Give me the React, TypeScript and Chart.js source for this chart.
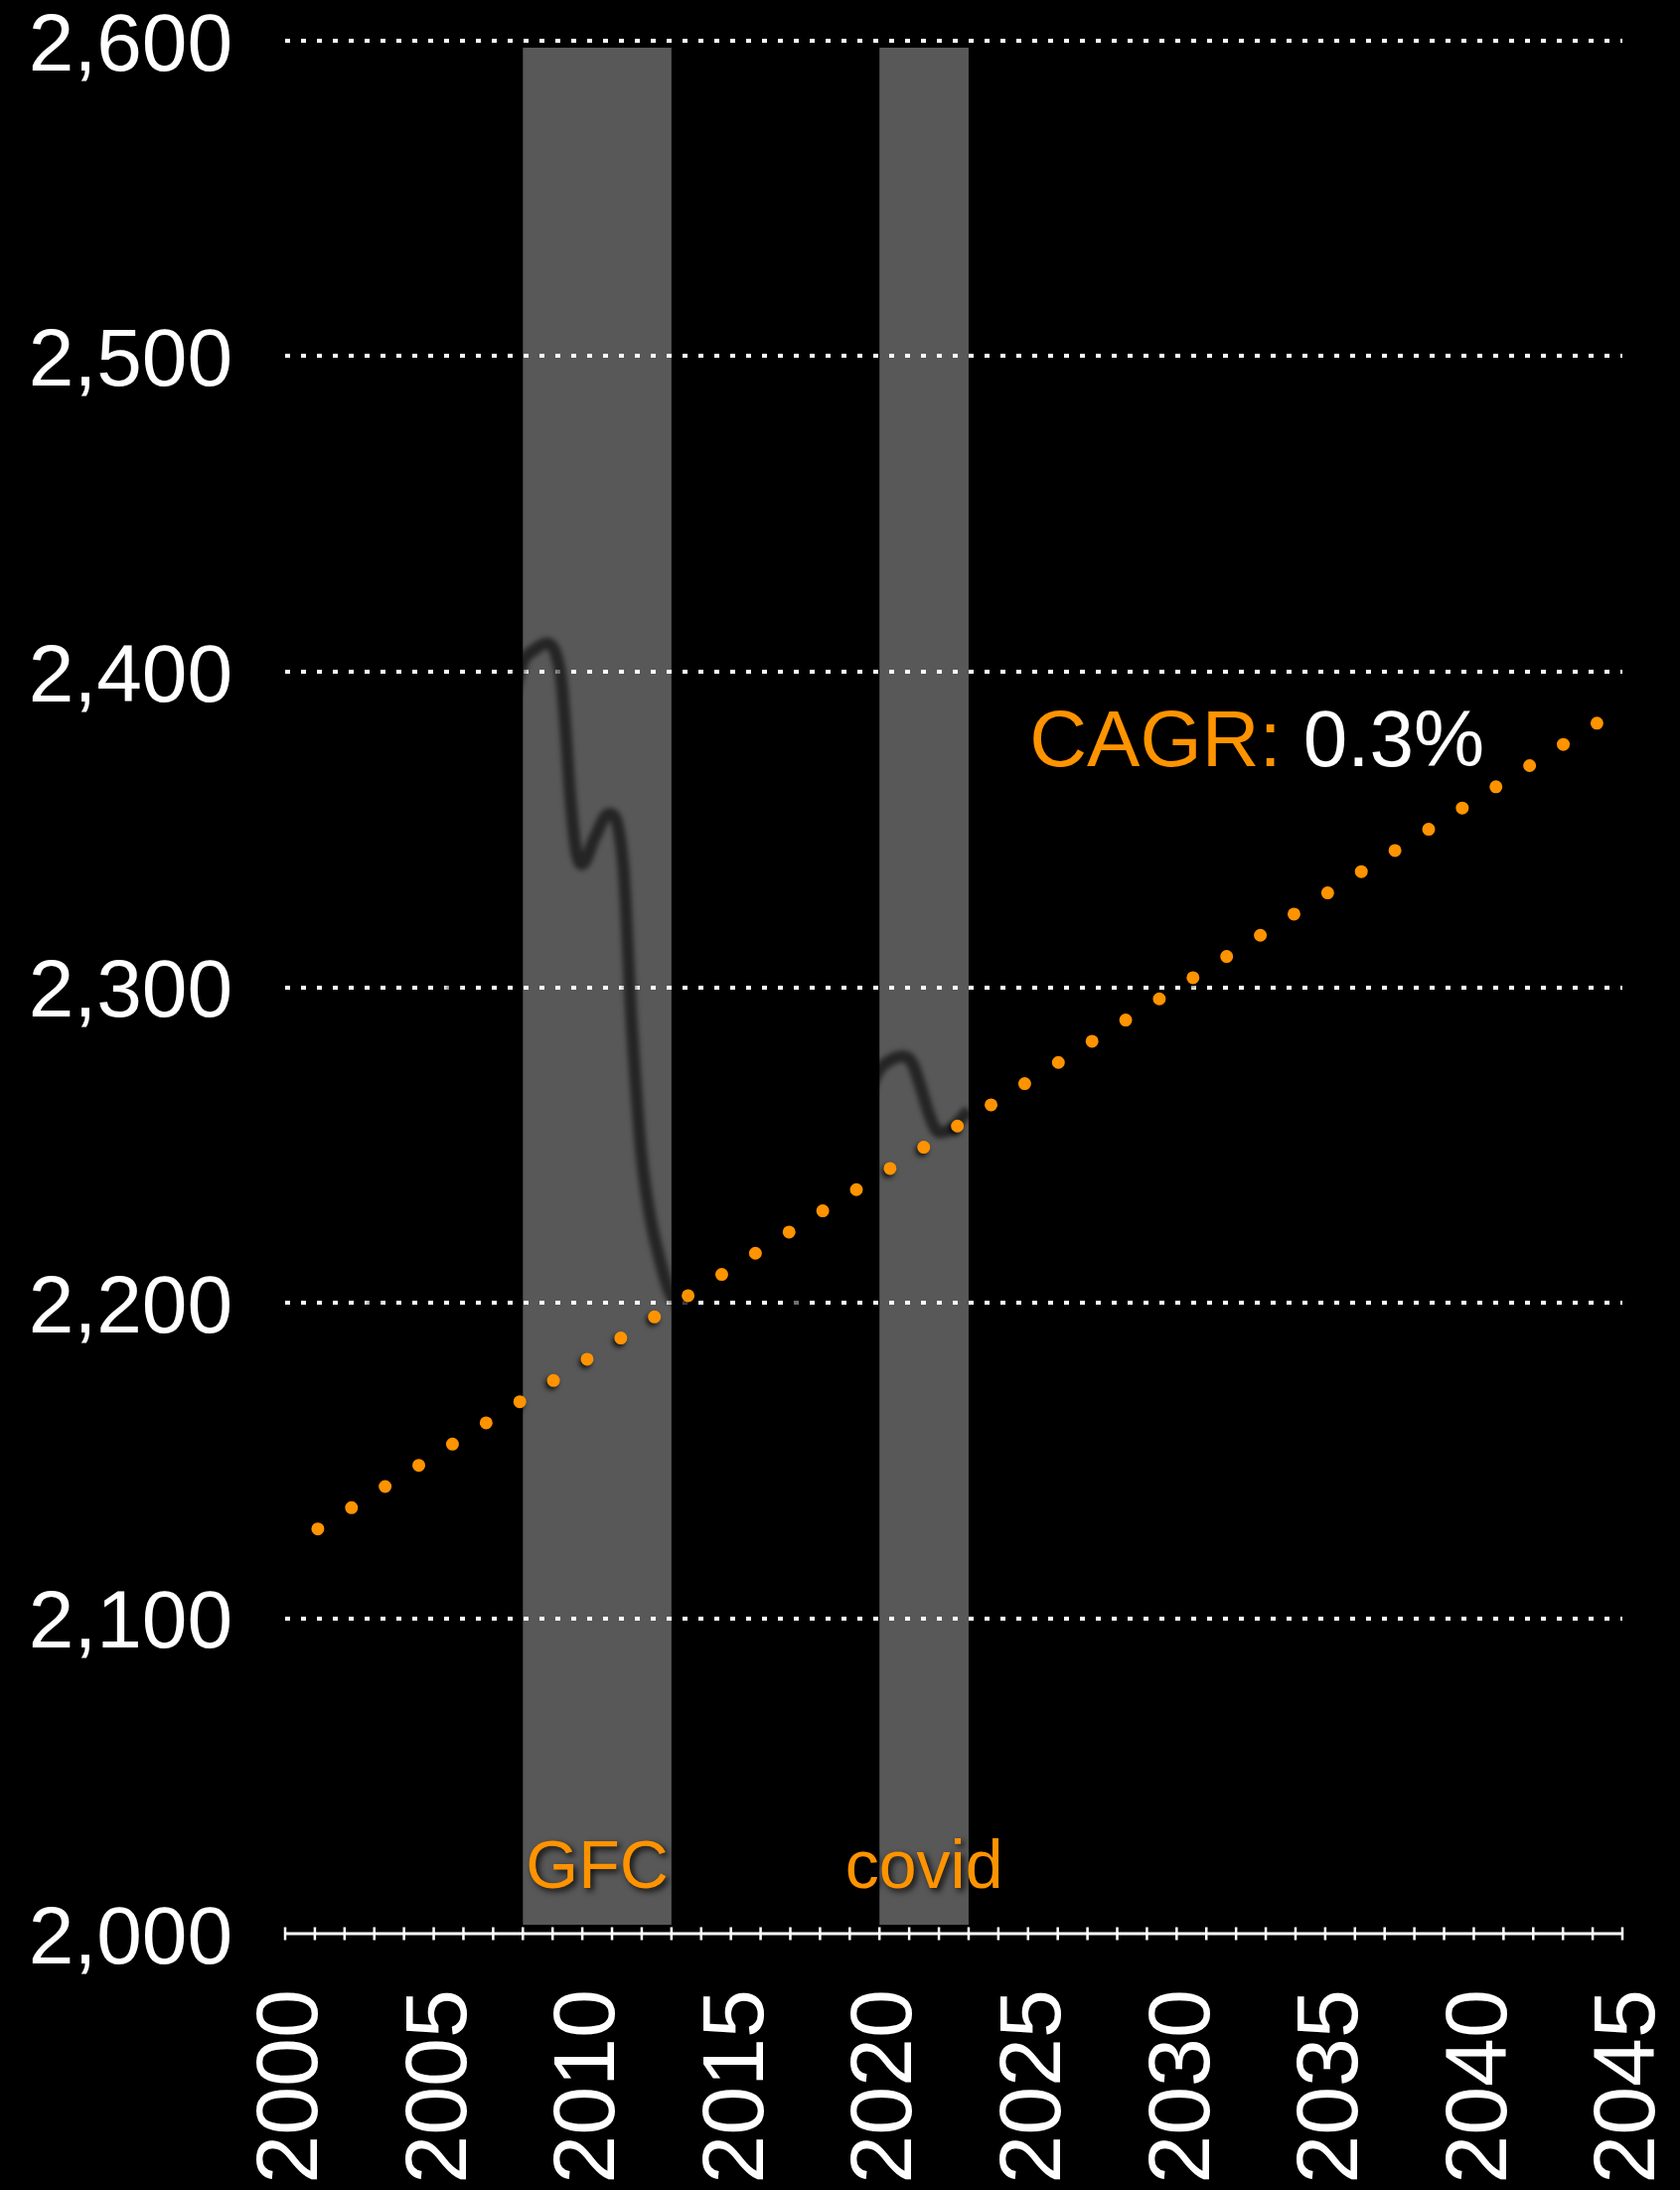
import React, { useEffect, useRef } from 'react';
import { Chart, registerables } from 'chart.js';

Chart.register(...registerables);

// ---- data ----
const dataYears = [
  2001.0, 2002.0, 2003.0, 2004.0, 2005.0, 2006.0, 2007.0, 2007.5, 2008.0, 2008.4,
  2008.8, 2009.1, 2009.3, 2009.45, 2009.6, 2009.8, 2010.0, 2010.4, 2010.9, 2011.2,
  2011.4, 2011.52, 2011.64, 2011.8, 2012.0, 2012.25, 2012.6, 2013.0, 2013.5, 2014.0,
  2014.8, 2015.5, 2016.3, 2017.2, 2018.0, 2019.0, 2019.6, 2020.0, 2020.4, 2020.8,
  2021.1, 2021.4, 2021.7, 2022.0, 2022.4, 2023.0,
];
const dataValues = [
  2130, 2164, 2200, 2237, 2274, 2314, 2357, 2385, 2403, 2407,
  2409, 2406, 2397, 2380, 2360, 2343, 2339, 2347, 2355, 2351,
  2336, 2315, 2292, 2269, 2246, 2229, 2214, 2202, 2199, 2192,
  2197, 2194, 2190, 2200, 2222, 2250, 2266, 2274, 2277, 2278,
  2276, 2268, 2259, 2254, 2255, 2261,
];
const trendYears = [2001.1, 2044.2];
const trendValues = [2128.3, 2384.0];

const bandLabels = ['GFC', 'covid'];
const bandStarts = [2008, 2020];
const bandEnds = [2013, 2023];
const bandLow = 2002.8;
const bandHigh = 2597.8;

const cagrPrefix = 'CAGR:';
const cagrValue = '0.3%';

const yMin = 2000;
const yMax = 2600;
const yStep = 100;
const xMin = 2000;
const xMax = 2045;
const xLabelStep = 5;

// ---- styling ----
const W = 1691;
const H = 2204;
const ORANGE = '#ff9300';
const FONT = '"Liberation Sans", Arial, Helvetica, sans-serif';

const decorPlugin = {
  id: 'decor',
  beforeDraw(chart: any) {
    const { ctx } = chart;
    const x = chart.scales.x;
    const y = chart.scales.y;
    ctx.save();
    ctx.fillStyle = '#000';
    ctx.fillRect(0, 0, chart.width, chart.height);
    ctx.fillStyle = '#585858';
    const top = y.getPixelForValue(bandHigh);
    const bot = y.getPixelForValue(bandLow);
    bandStarts.forEach((s, i) => {
      const l = x.getPixelForValue(s);
      const r = x.getPixelForValue(bandEnds[i]);
      ctx.fillRect(l, top, r - l, bot - top);
    });
    ctx.restore();
  },
  beforeDatasetDraw(chart: any, args: any) {
    const ctx = chart.ctx;
    ctx.save();
    const label = chart.data.datasets[args.index].label;
    if (label === 'data') {
      ctx.filter = 'blur(2.5px)';
    } else {
      ctx.shadowColor = 'rgba(0,0,0,0.75)';
      ctx.shadowBlur = 5;
      ctx.shadowOffsetX = -2;
      ctx.shadowOffsetY = 3;
    }
  },
  afterDatasetDraw(chart: any) {
    chart.ctx.restore();
  },
  afterDatasetsDraw(chart: any) {
    const { ctx } = chart;
    const x = chart.scales.x;
    const y = chart.scales.y;
    const yb = y.getPixelForValue(yMin);
    ctx.save();
    // x axis line with cross ticks every year
    ctx.strokeStyle = '#fff';
    ctx.lineWidth = 3;
    ctx.beginPath();
    ctx.moveTo(x.getPixelForValue(xMin), yb);
    ctx.lineTo(x.getPixelForValue(xMax), yb);
    ctx.stroke();
    ctx.lineWidth = 2.5;
    ctx.beginPath();
    for (let yr = xMin; yr <= xMax; yr++) {
      const px = x.getPixelForValue(yr);
      ctx.moveTo(px, yb - 6.5);
      ctx.lineTo(px, yb + 6.5);
    }
    ctx.stroke();

    // band labels
    ctx.font = `68px ${FONT}`;
    ctx.textAlign = 'center';
    ctx.textBaseline = 'alphabetic';
    ctx.fillStyle = ORANGE;
    ctx.shadowColor = 'rgba(0,0,0,0.85)';
    ctx.shadowBlur = 6;
    ctx.shadowOffsetX = 3;
    ctx.shadowOffsetY = 3;
    bandLabels.forEach((lab, i) => {
      const cx = (x.getPixelForValue(bandStarts[i]) + x.getPixelForValue(bandEnds[i])) / 2;
      ctx.fillText(lab, cx, yb - 46);
    });

    // CAGR annotation
    ctx.shadowColor = 'transparent';
    ctx.font = `80px ${FONT}`;
    ctx.textAlign = 'left';
    const tx = x.getPixelForValue(2025.05);
    const ty = y.getPixelForValue(2370.2);
    ctx.fillStyle = ORANGE;
    ctx.fillText(cagrPrefix + ' ', tx, ty);
    const w = ctx.measureText(cagrPrefix + ' ').width;
    ctx.fillStyle = '#fff';
    ctx.fillText(cagrValue, tx + w, ty);
    ctx.restore();
  },
};

export default function App() {
  const ref = useRef<HTMLCanvasElement | null>(null);

  useEffect(() => {
    document.body.style.margin = '0';
    document.body.style.background = '#000';
    if (!ref.current) return;
    const chart = new Chart(ref.current, {
      type: 'line',
      data: {
        datasets: [
          {
            label: 'trend',
            data: trendYears.map((yr, i) => ({ x: yr, y: trendValues[i] })),
            borderColor: ORANGE,
            borderWidth: 13,
            borderDash: [0, 40.04],
            borderCapStyle: 'round',
            pointRadius: 0,
            tension: 0,
            order: 0,
          },
          {
            label: 'data',
            data: dataYears.map((yr, i) => ({ x: yr, y: dataValues[i] })),
            borderColor: 'rgba(0,0,0,0.58)',
            borderWidth: 12,
            cubicInterpolationMode: 'monotone',
            pointRadius: 0,
            order: 1,
          },
        ],
      },
      options: {
        animation: false,
        responsive: false,
        maintainAspectRatio: false,
        devicePixelRatio: 1,
        events: [],
        layout: { padding: { top: 41, right: 58, bottom: 0, left: 0 } },
        plugins: { legend: { display: false }, tooltip: { enabled: false } },
        scales: {
          x: {
            type: 'linear',
            min: xMin,
            max: xMax,
            grid: { display: false, drawTicks: false },
            border: { display: false },
            ticks: {
              stepSize: xLabelStep,
              autoSkip: false,
              maxRotation: 90,
              minRotation: 90,
              padding: 56,
              labelOffset: 8,
              color: '#fff',
              font: { size: 88, family: FONT, lineHeight: 1 },
              callback: (v: any) => String(v),
            },
            afterFit: (s: any) => {
              s.height = H - 1946;
              s.paddingLeft = 0;
              s.paddingRight = 0;
            },
          },
          y: {
            type: 'linear',
            min: yMin,
            max: yMax,
            grid: {
              color: (c: any) => (c.tick && c.tick.value === yMin ? 'transparent' : '#fff'),
              lineWidth: 4,
              drawTicks: false,
            },
            border: { display: false, dash: [5, 11] },
            ticks: {
              stepSize: yStep,
              padding: 53,
              labelOffset: 7,
              color: '#fff',
              font: { size: 82, family: FONT, lineHeight: 1 },
              callback: (v: any) => Number(v).toLocaleString('en-US'),
            },
            afterFit: (s: any) => {
              s.width = 287;
              s.paddingTop = 0;
              s.paddingBottom = 0;
            },
          },
        },
      },
      plugins: [decorPlugin],
    } as any);
    return () => chart.destroy();
  }, []);

  return (
    <div style={{ width: W, height: H, background: '#000' }}>
      <canvas ref={ref} width={W} height={H} style={{ display: 'block', width: W, height: H }} />
    </div>
  );
}
